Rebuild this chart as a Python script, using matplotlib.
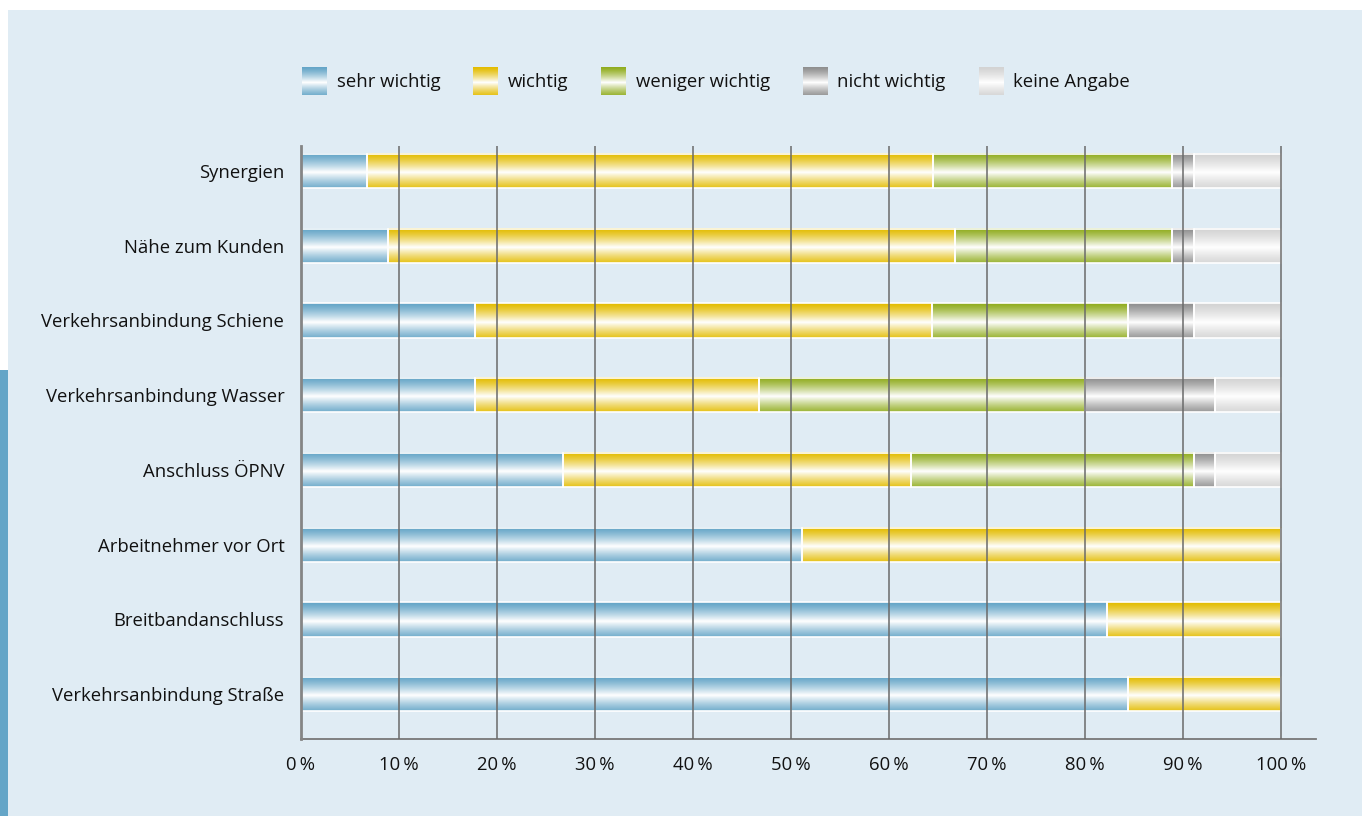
import numpy as np
import matplotlib
matplotlib.use('Agg')
import matplotlib.pyplot as plt
from matplotlib.patches import Rectangle
from matplotlib.legend_handler import HandlerBase
from matplotlib.image import BboxImage
from matplotlib.transforms import Bbox, TransformedBbox

plt.rcParams['font.family'] = ['Open Sans', 'DejaVu Sans']

# data (percent of answers)
categories = ['Verkehrsanbindung Straße', 'Breitbandanschluss', 'Arbeitnehmer vor Ort',
              'Anschluss ÖPNV', 'Verkehrsanbindung Wasser', 'Verkehrsanbindung Schiene',
              'Nähe zum Kunden', 'Synergien']
sehr_wichtig = [84.4, 82.2, 51.1, 26.7, 17.8, 17.8, 8.9, 6.7]
wichtig = [15.6, 17.8, 48.9, 35.5, 28.9, 46.6, 57.8, 57.8]
weniger_wichtig = [0, 0, 0, 28.9, 33.3, 20.0, 22.2, 24.4]
nicht_wichtig = [0, 0, 0, 2.2, 13.3, 6.7, 2.2, 2.2]
keine_angabe = [0, 0, 0, 6.7, 6.7, 8.9, 8.9, 8.9]

series_names = ['sehr wichtig', 'wichtig', 'weniger wichtig', 'nicht wichtig', 'keine Angabe']
series_values = [sehr_wichtig, wichtig, weniger_wichtig, nicht_wichtig, keine_angabe]
series_colors = ['#64a5c7', '#e3bc00', '#90ac1e', '#8f8f8f', '#d3d3d3']
x_ticks = list(range(0, 101, 10))


def gradient(color, n=64):
    # row 0 = top of the bar: dark edge, white band a bit below the middle
    base = np.array(matplotlib.colors.to_rgb(color))
    t = np.linspace(0, 1, n)
    w = np.clip(1 - np.abs(t - 0.55) / 0.55, 0, 1) ** 1.3
    rows = base[None, :] * (1 - w[:, None]) + w[:, None]
    return rows[:, None, :]


class GradientHandler(HandlerBase):
    def __init__(self, color):
        super().__init__()
        self.color = color

    def create_artists(self, legend, orig_handle, xdescent, ydescent, width, height, fontsize, trans):
        bb = TransformedBbox(Bbox.from_bounds(-xdescent, -ydescent - 4, width, height + 8), trans)
        img = BboxImage(bb, interpolation='bilinear')
        img.set_data(gradient(self.color))
        return [img]


fig = plt.figure(figsize=(13.69, 8.16), dpi=100, facecolor='white')
fig.patches.append(Rectangle((8 / 1369, 0), 1354 / 1369, 1 - 10 / 816, transform=fig.transFigure,
                             facecolor='#e0ecf4', edgecolor='none', zorder=-10))
fig.patches.append(Rectangle((0, 0), 8 / 1369, (816 - 370) / 816, transform=fig.transFigure,
                             facecolor='#64a5c7', edgecolor='none', zorder=-10))

ax = fig.add_axes([301 / 1369, 1 - 739 / 816, (1316 - 301) / 1369, (739 - 146) / 816])
ax.set_facecolor('none')

y = np.arange(len(categories))
left = np.zeros(len(categories))
handles = []
for name, vals, col in zip(series_names, series_values, series_colors):
    bars = ax.barh(y, vals, left=left, height=0.46, facecolor='none', edgecolor='white',
                   linewidth=1.2, zorder=3, label=name)
    handles.append(bars)
    for p in bars.patches:
        if p.get_width() <= 0:
            continue
        x0, y0 = p.get_x(), p.get_y()
        ax.imshow(gradient(col), extent=[x0, x0 + p.get_width(), y0, y0 + p.get_height()],
                  aspect='auto', interpolation='bilinear', zorder=2)
    left = left + np.array(vals)

ax.set_xlim(0, 103.57)
ax.set_ylim(-0.6, len(categories) - 1 + 0.335)
ax.set_aspect('auto')

for xv in x_ticks[1:]:
    ax.axvline(xv, color='#6a6a6a', linewidth=1.1, zorder=4)

ax.set_xticks(x_ticks)
ax.set_xticklabels([f'{v}\u2009%' for v in x_ticks])
ax.set_yticks(y)
ax.set_yticklabels(categories)
ax.tick_params(axis='both', length=0, labelsize=13.3, labelcolor='#111111')
ax.tick_params(axis='x', pad=12)
ax.tick_params(axis='y', pad=12)
for s in ['top', 'right']:
    ax.spines[s].set_visible(False)
ax.spines['left'].set_color('#858585')
ax.spines['left'].set_linewidth(2)
ax.spines['left'].set_zorder(5)
ax.spines['bottom'].set_color('#777777')
ax.spines['bottom'].set_linewidth(1.3)

fig.legend(handles, series_names, loc='center', bbox_to_anchor=(716 / 1369, 1 - 82 / 816),
           ncol=5, frameon=False, fontsize=13.3, handlelength=1.35, handleheight=1.0,
           handletextpad=0.5, columnspacing=1.8, labelcolor='#111111',
           handler_map={h: GradientHandler(c) for h, c in zip(handles, series_colors)})

fig.savefig('out.png', dpi=100, facecolor='white')
